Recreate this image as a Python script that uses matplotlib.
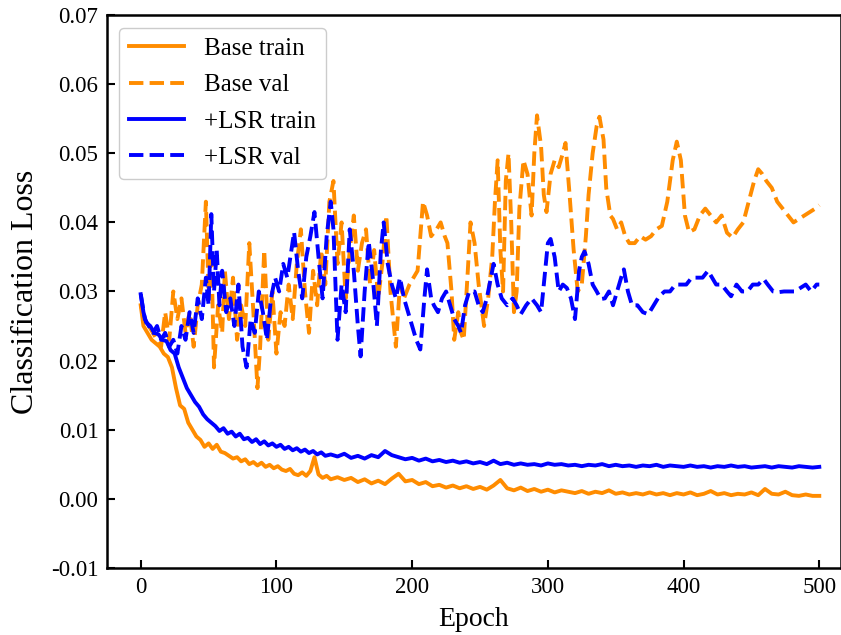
import matplotlib
matplotlib.use('Agg')
import matplotlib.pyplot as plt
from matplotlib.ticker import FormatStrFormatter

plt.rcParams['font.family'] = ['Liberation Serif', 'DejaVu Serif']
plt.rcParams['axes.unicode_minus'] = False

# Base train (orange solid)
base_train_ep = [0, 2, 5, 8, 11, 14, 17, 20, 23, 26, 29, 32, 35, 38, 41, 44, 47, 50, 53, 56,
                 59, 62, 65, 68, 71, 74, 77, 80, 83, 86, 89, 92, 95, 98, 101, 104, 107, 110, 113, 116,
                 119, 122, 125, 128, 131, 134, 137, 140, 145, 150, 155, 160, 165, 170, 175, 180, 185, 190,
                 195, 200, 205, 210, 215, 220, 225, 230, 235, 240, 245, 250, 255, 260, 265, 270, 275, 280,
                 285, 290, 295, 300, 305, 310, 315, 320, 325, 330, 335, 340, 345, 350, 355, 360, 365, 370,
                 375, 380, 385, 390, 395, 400, 405, 410, 415, 420, 425, 430, 435, 440, 445, 450, 455, 460,
                 465, 470, 475, 480, 485, 490, 495, 500]
base_train = [0.028, 0.025, 0.024, 0.023, 0.0225, 0.022, 0.021, 0.0205, 0.019, 0.016, 0.0135, 0.013,
              0.011, 0.010, 0.009, 0.0085, 0.0075, 0.008, 0.0072, 0.0078, 0.0068, 0.0066, 0.0062, 0.0058,
              0.0060, 0.0054, 0.0057, 0.0050, 0.0053, 0.0048, 0.0052, 0.0046, 0.0049, 0.0044, 0.0047, 0.0042,
              0.0040, 0.0043, 0.0036, 0.0034, 0.0038, 0.0033, 0.0040, 0.0060, 0.0035, 0.0030, 0.0033, 0.0028,
              0.0031, 0.0027, 0.0030, 0.0024, 0.0028, 0.0022, 0.0026, 0.0021, 0.0029, 0.0036, 0.0025, 0.0027,
              0.0021, 0.0024, 0.0018, 0.0020, 0.0016, 0.0019, 0.0015, 0.0018, 0.0014, 0.0017, 0.0013, 0.0019,
              0.0027, 0.0015, 0.0012, 0.0016, 0.0011, 0.0014, 0.0010, 0.0013, 0.0009, 0.0012, 0.0010, 0.0008,
              0.0011, 0.0007, 0.0010, 0.0008, 0.0012, 0.0007, 0.0009, 0.0006, 0.0008, 0.0006, 0.0009, 0.0006,
              0.0008, 0.0005, 0.0008, 0.0006, 0.0009, 0.0005, 0.0007, 0.0011, 0.0006, 0.0008, 0.0005, 0.0007,
              0.0006, 0.0009, 0.0005, 0.0014, 0.0007, 0.0006, 0.0010, 0.0005, 0.0004, 0.0006, 0.0004, 0.0004]

# Base val (orange dashed)
base_val_ep = [0, 3, 6, 9, 12, 15, 18, 21, 24, 27, 30, 33, 36, 39, 42, 45, 48, 50, 52, 54,
               57, 60, 62, 65, 68, 71, 74, 77, 80, 83, 86, 88, 91, 94, 97, 100, 103, 106, 109, 112,
               115, 118, 121, 124, 127, 130, 133, 136, 139, 142, 145, 148, 151, 154, 157, 160, 163, 166,
               169, 172, 175, 178, 181, 184, 188, 191, 194, 198, 201, 204, 208, 211, 214, 218, 221, 224,
               226, 229, 231, 234, 236, 238, 241, 243, 246, 249, 253, 256, 259, 261, 263, 265, 267, 269,
               271, 273, 275, 277, 279, 282, 285, 288, 290, 292, 295, 297, 299, 302, 305, 308, 311, 313,
               316, 319, 322, 325, 328, 330, 333, 336, 338, 341, 343, 346, 348, 351, 354, 357, 360, 364,
               368, 372, 376, 380, 384, 388, 392, 395, 398, 401, 404, 408, 412, 416, 420, 424, 428, 432,
               436, 440, 444, 448, 452, 455, 458, 461, 465, 469, 473, 477, 481, 485, 489, 493, 497, 500]
base_val = [0.028, 0.026, 0.025, 0.024, 0.023, 0.022, 0.027, 0.023, 0.030, 0.026, 0.029, 0.024,
            0.027, 0.022, 0.028, 0.031, 0.043, 0.030, 0.036, 0.019, 0.028, 0.024, 0.033, 0.026,
            0.032, 0.023, 0.028, 0.025, 0.037, 0.027, 0.016, 0.022, 0.036, 0.023, 0.030, 0.021,
            0.027, 0.025, 0.031, 0.026, 0.034, 0.039, 0.030, 0.024, 0.033, 0.028, 0.036, 0.031,
            0.043, 0.046, 0.034, 0.040, 0.029, 0.036, 0.041, 0.033, 0.037, 0.039, 0.031, 0.036,
            0.029, 0.034, 0.041, 0.030, 0.022, 0.031, 0.029, 0.031, 0.032, 0.033, 0.043, 0.041,
            0.038, 0.039, 0.040, 0.038, 0.037, 0.030, 0.023, 0.027, 0.024, 0.023, 0.033, 0.040,
            0.037, 0.031, 0.025, 0.029, 0.035, 0.043, 0.049, 0.036, 0.030, 0.046, 0.050, 0.040,
            0.027, 0.030, 0.042, 0.049, 0.047, 0.041, 0.050, 0.0555, 0.051, 0.044, 0.0415, 0.047,
            0.049, 0.048, 0.050, 0.0515, 0.044, 0.036, 0.030, 0.031, 0.038, 0.044, 0.050, 0.054,
            0.0553, 0.052, 0.045, 0.041, 0.0405, 0.039, 0.040, 0.038, 0.037, 0.037, 0.038, 0.0375,
            0.038, 0.039, 0.0395, 0.043, 0.049, 0.0517, 0.049, 0.041, 0.0386, 0.039, 0.041, 0.042,
            0.041, 0.040, 0.041, 0.0385, 0.0378, 0.039, 0.040, 0.043, 0.046, 0.0477, 0.047, 0.046,
            0.045, 0.043, 0.042, 0.041, 0.040, 0.0405, 0.041, 0.0415, 0.042, 0.0425]

# +LSR train (blue solid)
lsr_train_ep = [0, 2, 4, 7, 10, 13, 16, 19, 22, 25, 28, 31, 34, 37, 40, 43, 46, 49, 52, 55,
                58, 61, 64, 67, 70, 73, 76, 79, 82, 85, 88, 91, 94, 97, 100, 103, 106, 109, 112, 115,
                118, 121, 124, 127, 130, 133, 136, 140, 145, 150, 155, 160, 165, 170, 175, 180, 185, 190,
                195, 200, 205, 210, 215, 220, 225, 230, 235, 240, 245, 250, 255, 260, 265, 270, 275, 280,
                285, 290, 295, 300, 305, 310, 315, 320, 325, 330, 335, 340, 345, 350, 355, 360, 365, 370,
                375, 380, 385, 390, 395, 400, 405, 410, 415, 420, 425, 430, 435, 440, 445, 450, 455, 460,
                465, 470, 475, 480, 485, 490, 495, 500]
lsr_train = [0.0296, 0.027, 0.0255, 0.025, 0.024, 0.0238, 0.023, 0.0228, 0.0215, 0.021, 0.019, 0.0175,
             0.016, 0.015, 0.014, 0.0133, 0.0122, 0.0115, 0.0110, 0.0105, 0.0098, 0.0102, 0.0094, 0.0097,
             0.0090, 0.0094, 0.0086, 0.0088, 0.0082, 0.0086, 0.0079, 0.0083, 0.0077, 0.0080, 0.0075, 0.0078,
             0.0072, 0.0075, 0.0070, 0.0073, 0.0068, 0.0071, 0.0066, 0.0069, 0.0064, 0.0067, 0.0062, 0.0064,
             0.0061, 0.0065, 0.0059, 0.0062, 0.0058, 0.0063, 0.0060, 0.0069, 0.0063, 0.0060, 0.0057, 0.0059,
             0.0055, 0.0058, 0.0054, 0.0056, 0.0053, 0.0055, 0.0052, 0.0054, 0.0051, 0.0053, 0.0050, 0.0055,
             0.0050, 0.0052, 0.0049, 0.0051, 0.0049, 0.0050, 0.0048, 0.0051, 0.0049, 0.0050, 0.0048, 0.0049,
             0.0047, 0.0049, 0.0048, 0.0050, 0.0047, 0.0049, 0.0047, 0.0048, 0.0046, 0.0048, 0.0047, 0.0049,
             0.0046, 0.0048, 0.0047, 0.0046, 0.0048, 0.0046, 0.0047, 0.0045, 0.0047, 0.0046, 0.0048, 0.0046,
             0.0047, 0.0045, 0.0046, 0.0047, 0.0045, 0.0047, 0.0046, 0.0045, 0.0047, 0.0046, 0.0045, 0.0046]

# +LSR val (blue dashed)
lsr_val_ep = [0, 3, 6, 9, 12, 15, 18, 21, 24, 27, 30, 33, 36, 39, 42, 45, 48, 50, 52, 54,
              56, 58, 60, 63, 66, 69, 72, 75, 78, 81, 84, 87, 90, 93, 96, 99, 102, 105, 108, 111,
              113, 116, 119, 122, 125, 128, 131, 134, 137, 140, 142, 145, 148, 151, 154, 157, 160, 162,
              165, 168, 171, 174, 177, 179, 182, 185, 188, 191, 194, 197, 200, 203, 206, 209, 211, 214,
              216, 219, 222, 225, 228, 231, 234, 236, 239, 242, 246, 249, 252, 255, 258, 260, 263, 266,
              270, 274, 277, 280, 284, 288, 292, 295, 298, 300, 302, 305, 308, 311, 314, 317, 320, 323,
              325, 327, 330, 333, 336, 339, 342, 345, 348, 351, 354, 356, 359, 362, 366, 370, 374, 378,
              382, 386, 390, 394, 398, 402, 406, 410, 414, 418, 421, 424, 428, 432, 435, 439, 443, 447,
              451, 455, 459, 462, 466, 470, 474, 478, 482, 486, 490, 494, 498, 500]
lsr_val = [0.0296, 0.026, 0.025, 0.024, 0.025, 0.023, 0.024, 0.022, 0.023, 0.021, 0.025, 0.023,
           0.027, 0.024, 0.029, 0.026, 0.032, 0.028, 0.0412, 0.030, 0.036, 0.028, 0.033, 0.027,
           0.029, 0.025, 0.031, 0.022, 0.019, 0.026, 0.024, 0.030, 0.027, 0.023, 0.029, 0.032,
           0.030, 0.034, 0.032, 0.036, 0.0386, 0.033, 0.029, 0.035, 0.038, 0.0415, 0.035, 0.029,
           0.038, 0.043, 0.039, 0.023, 0.031, 0.027, 0.039, 0.033, 0.025, 0.0206, 0.030, 0.0372,
           0.032, 0.025, 0.036, 0.040, 0.034, 0.031, 0.029, 0.032, 0.029, 0.027, 0.025, 0.023,
           0.0216, 0.029, 0.0332, 0.029, 0.028, 0.027, 0.029, 0.030, 0.028, 0.026, 0.025, 0.024,
           0.028, 0.030, 0.030, 0.028, 0.027, 0.029, 0.032, 0.034, 0.031, 0.029, 0.028, 0.029,
           0.028, 0.0267, 0.028, 0.029, 0.028, 0.027, 0.033, 0.037, 0.0376, 0.035, 0.030, 0.031,
           0.0305, 0.029, 0.026, 0.033, 0.035, 0.0358, 0.034, 0.031, 0.030, 0.0289, 0.029, 0.030,
           0.028, 0.030, 0.032, 0.0332, 0.030, 0.028, 0.028, 0.027, 0.0267, 0.028, 0.0293, 0.030,
           0.030, 0.031, 0.031, 0.031, 0.032, 0.032, 0.032, 0.033, 0.032, 0.031, 0.031, 0.030,
           0.0293, 0.031, 0.030, 0.030, 0.031, 0.031, 0.0318, 0.031, 0.030, 0.0299, 0.030, 0.030,
           0.030, 0.0305, 0.031, 0.030, 0.031, 0.031]

orange = '#ff8c00'
blue = '#0000ff'

fig = plt.figure(figsize=(8.41, 6.35), dpi=100)
ax = fig.add_axes([0.127, 0.106, 0.873, 0.870])

ax.plot(base_train_ep, base_train, color=orange, lw=2.8, label='Base train')
ax.plot(base_val_ep, base_val, color=orange, lw=2.8, ls='--', label='Base val')
ax.plot(lsr_train_ep, lsr_train, color=blue, lw=2.8, label='+LSR train')
ax.plot(lsr_val_ep, lsr_val, color=blue, lw=2.8, ls='--', label='+LSR val')

ax.set_xlim(-25, 516)
ax.set_ylim(-0.01, 0.07)
ax.set_xticks([0, 100, 200, 300, 400, 500])
ax.set_yticks([-0.01, 0.0, 0.01, 0.02, 0.03, 0.04, 0.05, 0.06, 0.07])
ax.yaxis.set_major_formatter(FormatStrFormatter('%.2f'))
ax.tick_params(direction='in', length=6, width=1.5, labelsize=16.5)
ax.tick_params(axis='x', pad=7)
ax.tick_params(axis='y', pad=6)
for s in ax.spines.values():
    s.set_linewidth(1.8)

ax.set_xlabel('Epoch', fontsize=20, labelpad=6)
ax.set_ylabel('Classification Loss', fontsize=23, labelpad=8)

ax.legend(loc='upper left', fontsize=18, labelspacing=0.55, handlelength=2.2,
          borderaxespad=0.5, framealpha=1.0)

fig.savefig('out.png', dpi=100)
